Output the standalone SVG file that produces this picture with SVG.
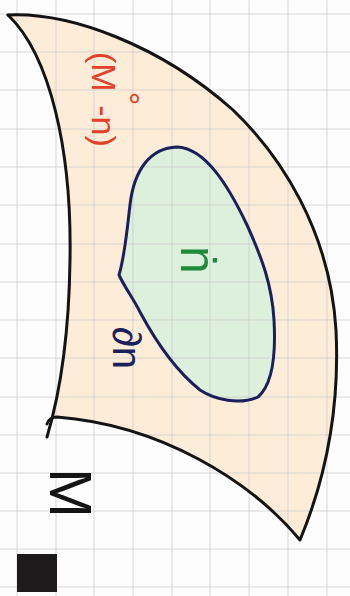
<svg xmlns="http://www.w3.org/2000/svg" width="350" height="596" viewBox="0 0 350 596">
  <style>
    .grid line { stroke: #c9c9c9; stroke-width: 1; opacity: 0.7; }
    .outline { fill: none; stroke: #141414; stroke-width: 3; stroke-linecap: round; stroke-linejoin: round; }
    .inner { fill: none; stroke: #1b1f5c; stroke-width: 3; stroke-linecap: round; stroke-linejoin: round; }
    .lbl { font-family: "Liberation Sans", Arial, sans-serif; }
  </style>
  <rect x="0" y="0" width="350" height="596" fill="#fdfdfd"/>

  <g id="region-M">
    <path d="M8,15 C70,12 160,45 233,110 C280,155 330,230 336,330 C340,410 325,480 300,540 C250,480 160,425 57,417 L53,418 C58,400 69,340 70,260 C72,150 50,55 8,15 Z" fill="#fcecd8"/>
  </g>
  <g id="region-n">
    <path d="M177,147 C205,148 228,185 247,225 C262,258 272,285 274,320 C276,355 272,385 258,397 C240,405 215,400 200,390 C175,370 155,340 140,312 C133,298 125,288 119,275 C125,255 127,230 130,205 C134,170 150,148 177,147 Z" fill="#dcf0dc"/>
  </g>

  <g class="grid">
    <line x1="17" y1="0" x2="17" y2="596"/>
    <line x1="56" y1="0" x2="56" y2="596"/>
    <line x1="94" y1="0" x2="94" y2="596"/>
    <line x1="133" y1="0" x2="133" y2="596"/>
    <line x1="172" y1="0" x2="172" y2="596"/>
    <line x1="210" y1="0" x2="210" y2="596"/>
    <line x1="249" y1="0" x2="249" y2="596"/>
    <line x1="288" y1="0" x2="288" y2="596"/>
    <line x1="327" y1="0" x2="327" y2="596"/>
    <line x1="0" y1="14" x2="350" y2="14"/>
    <line x1="0" y1="52" x2="350" y2="52"/>
    <line x1="0" y1="90" x2="350" y2="90"/>
    <line x1="0" y1="129" x2="350" y2="129"/>
    <line x1="0" y1="167" x2="350" y2="167"/>
    <line x1="0" y1="205" x2="350" y2="205"/>
    <line x1="0" y1="244" x2="350" y2="244"/>
    <line x1="0" y1="282" x2="350" y2="282"/>
    <line x1="0" y1="320" x2="350" y2="320"/>
    <line x1="0" y1="358" x2="350" y2="358"/>
    <line x1="0" y1="397" x2="350" y2="397"/>
    <line x1="0" y1="435" x2="350" y2="435"/>
    <line x1="0" y1="473" x2="350" y2="473"/>
    <line x1="0" y1="511" x2="350" y2="511"/>
    <line x1="0" y1="549" x2="350" y2="549"/>
    <line x1="0" y1="587" x2="350" y2="587"/>
  </g>

  <g id="outline-M">
    <path class="outline" d="M8,15 C70,12 160,45 233,110 C280,155 330,230 336,330 C340,410 325,480 300,540 C250,480 160,425 57,417 C52,417 48,420 47,424"/>
    <path class="outline" d="M8,15 C50,55 72,150 70,260 C69,340 58,400 47,437"/>
  </g>
  <g id="outline-n">
    <path class="inner" d="M177,147 C205,148 228,185 247,225 C262,258 272,285 274,320 C276,355 272,385 258,397 C240,405 215,400 200,390 C175,370 155,340 140,312 C133,298 125,288 119,275 C125,255 127,230 130,205 C134,170 150,148 177,147 Z"/>
  </g>

  <g id="label-interior">
    <text class="lbl" transform="translate(92,52) rotate(90)" font-size="34" fill="#e2412b">(M<tspan dy="-24">°</tspan><tspan dy="24">-n)</tspan></text>
  </g>
  <g id="label-n">
    <text class="lbl" transform="translate(181,246) rotate(90)" font-size="50" fill="#1e8a3c">ṅ</text>
  </g>
  <g id="label-boundary">
    <text class="lbl" transform="translate(113,327) rotate(90)" font-size="40" fill="#1b1f5c">∂n</text>
  </g>
  <g id="label-M">
    <text class="lbl" transform="translate(50,468) rotate(90)" font-size="60" fill="#141414">M</text>
  </g>
  <g id="end-mark">
    <rect x="17" y="554" width="40" height="38" fill="#1c1a1a"/>
  </g>
</svg>
